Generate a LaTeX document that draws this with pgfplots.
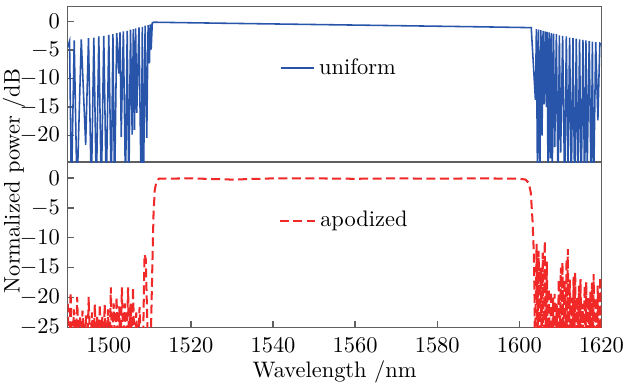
\documentclass[border=0pt]{standalone}
\usepackage{pgfplots}
\pgfplotsset{compat=1.18}
\definecolor{ublue}{RGB}{40,84,170}
\definecolor{ared}{RGB}{240,40,40}
\definecolor{axgray}{RGB}{95,95,95}
\begin{document}
\begin{tikzpicture}
\pgfplotsset{
  common/.style={
    width=238pt, scale only axis,
    xmin=1490, xmax=1620,
    axis line style={axgray, line width=0.6pt},
    tick style={axgray, line width=0.6pt},
    major tick length=3pt,
    tick align=inside,
    xtick pos=bottom, ytick pos=left,
    legend cell align=left,
    tick label style={font=\normalsize},
    /pgf/number format/1000 sep={},
  },
}
% bottom axis: apodized
\begin{axis}[common, name=bot, at={(0,0)}, anchor=south west,
  height=73.7pt,
  ymin=-25, ymax=2.67,
  ytick={0,-5,-10,-15,-20,-25},
  xtick={1500,1520,1540,1560,1580,1600,1620},
  xticklabel style={yshift=-1pt},
  xlabel={Wavelength /nm},
  xlabel style={yshift=3pt},
  legend style={draw=none, fill=none, at={(0.395,0.645)}, anchor=west, inner sep=0pt},
  legend image code/.code={\draw[#1] (0pt,0pt) -- (15.5pt,0pt);},
]
\addplot[ared, line width=0.9pt, dash pattern=on 4pt off 2pt] coordinates {
(1490.0,-21) (1490.35,-30) (1490.7,-19.1) (1491.1,-30) (1491.5,-22) (1491.9,-30)
(1492.3,-19.9) (1492.7,-30) (1493.0,-23) (1493.3,-30) (1493.6,-22.2) (1494.0,-30)
(1494.4,-23) (1494.75,-30) (1495.1,-19.9) (1495.5,-30) (1495.9,-22.5) (1496.25,-30)
(1496.6,-21.1) (1496.95,-30) (1497.2,-23) (1497.5,-30) (1497.8,-21.1) (1498.15,-30)
(1498.4,-23) (1498.7,-30) (1499.0,-21.1) (1499.4,-30) (1499.8,-22) (1500.15,-30)
(1500.5,-18.3) (1500.85,-30) (1501.2,-21) (1501.55,-30) (1501.9,-19.9) (1502.2,-30)
(1502.55,-21.5) (1502.85,-30) (1503.2,-18.3) (1503.55,-30) (1503.9,-21) (1504.3,-30)
(1504.7,-18.3) (1505.0,-30) (1505.3,-21) (1505.6,-30) (1505.9,-18.3) (1506.3,-30)
(1506.7,-22.5) (1507.1,-30) (1507.5,-21.6) (1507.9,-30) (1508.3,-30) (1508.7,-12.8)
(1509.0,-13.5) (1509.6,-30) (1510.1,-30) (1510.3,-25) (1510.6,-15) (1510.9,-6)
(1511.2,-2) (1511.6,-0.6) (1512.2,-0.1) (1520,-0.05) (1530,-0.25) (1540,-0.05)
(1550,-0.05) (1560,-0.12) (1570,-0.05) (1580,-0.1) (1590,-0.05) (1600,-0.1)
(1601.5,-0.25) (1602.3,-0.8) (1602.8,-2.5) (1603.2,-7) (1603.5,-12) (1603.7,-20)
(1603.8,-30)
(1604.2,-11) (1604.45,-30) (1604.7,-12.2) (1604.95,-30) (1605.2,-15) (1605.45,-30)
(1605.7,-12.5) (1605.95,-30) (1606.2,-10.5) (1606.45,-30) (1606.7,-14) (1606.95,-30)
(1607.2,-18.5) (1607.45,-30) (1607.7,-19) (1607.95,-30) (1608.2,-20) (1608.4,-30)
(1608.6,-19.4) (1608.85,-30) (1609.1,-21) (1609.35,-30) (1609.6,-17) (1609.85,-30)
(1610.1,-15) (1610.3,-30) (1610.5,-14.1) (1610.75,-30) (1611.0,-17) (1611.25,-30)
(1611.5,-13.5) (1611.65,-30) (1611.8,-11.9) (1612.05,-30) (1612.3,-17) (1612.55,-30)
(1612.8,-20) (1613.0,-30) (1613.2,-16.5) (1613.4,-30) (1613.6,-15.8) (1613.85,-30)
(1614.1,-20) (1614.3,-30) (1614.5,-18) (1614.7,-30) (1614.9,-16.9) (1615.15,-30)
(1615.4,-21) (1615.65,-30) (1615.9,-18) (1616.1,-30) (1616.3,-17.4) (1616.55,-30)
(1616.8,-20) (1617.05,-30) (1617.3,-19) (1617.5,-30) (1617.7,-17.5) (1617.9,-30)
(1618.1,-16.1) (1618.35,-30) (1618.6,-20) (1618.85,-30) (1619.1,-18) (1619.4,-30)
(1619.7,-16.6) (1619.85,-30) (1620.0,-17.5)
};
\addlegendentry{apodized}
\end{axis}
% top axis: uniform
\begin{axis}[common, at={(0,73.7pt)}, anchor=south west,
  height=69.3pt,
  ymin=-24.65, ymax=2.62,
  ytick={0,-5,-10,-15,-20},
  xtick=\empty,
  legend style={draw=none, fill=none, at={(0.397,0.604)}, anchor=west, inner sep=0pt},
  legend image code/.code={\draw[#1] (0pt,0pt) -- (14.7pt,0pt);},
]
\addplot[ublue, line width=0.7pt] coordinates {
(1490.00,-4.5) (1490.45,-3.4) (1490.90,-30) (1491.58,-3.3) (1492.26,-30) (1493.30,-3.1)
(1494.37,-21.6) (1495.06,-2.9) (1495.75,-30) (1496.36,-2.8) (1496.97,-30) (1497.57,-2.6)
(1498.18,-30) (1498.78,-2.5) (1499.39,-30) (1500.00,-2.3) (1500.61,-30) (1501.01,-2.2)
(1501.41,-30) (1501.93,-2.0) (1502.45,-9.1) (1502.74,-1.9) (1503.03,-20.2) (1503.55,-1.7)
(1504.08,-30) (1504.48,-1.6) (1504.88,-30) (1505.29,-1.4) (1505.70,-19.8) (1505.98,-1.3)
(1506.26,-19) (1506.54,-1.2) (1506.82,-16) (1507.35,-1.0) (1507.89,-30) (1508.17,-0.9)
(1508.45,-30) (1508.85,-0.7) (1509.25,-20.4) (1509.58,-0.6) (1509.90,-7.3) (1510.11,-0.5)
(1510.32,-4.9) (1510.6,-0.2) (1511.0,-0.1)
(1530,-0.3) (1550,-0.5) (1570,-0.7) (1590,-0.9) (1602.9,-1.05)
(1603.91,-13.7) (1604.15,-1.3) (1604.39,-25) (1604.68,-1.4) (1604.98,-30) (1605.25,-1.5)
(1605.53,-20) (1605.78,-1.6) (1606.02,-14.5) (1606.30,-1.7) (1606.58,-15) (1606.78,-1.8)
(1606.99,-30) (1607.27,-1.9) (1607.55,-24) (1607.79,-2.0) (1608.03,-26) (1608.33,-2.1)
(1608.62,-22) (1609.02,-2.2) (1609.42,-30) (1609.75,-2.4) (1610.07,-23) (1610.55,-2.5)
(1611.04,-30) (1611.44,-2.6) (1611.84,-26) (1612.25,-2.8) (1612.65,-30) (1613.06,-2.9)
(1613.47,-30) (1613.87,-3.0) (1614.27,-30) (1614.67,-3.1) (1615.07,-30) (1615.49,-3.2)
(1615.90,-30) (1616.22,-3.3) (1616.53,-26) (1617.02,-3.4) (1617.50,-30) (1617.79,-3.5)
(1618.08,-30) (1618.6,-3.6) (1619.13,-17.3) (1619.6,-3.8) (1620.0,-4)
};
\addlegendentry{uniform}
\end{axis}
\node[rotate=90, font=\normalsize] at (-24pt,65.3pt) {Normalized power /dB};
\pgfresetboundingbox
\path[use as bounding box] (-30.2pt,-25.5pt) rectangle (248.5pt,146pt);
\end{tikzpicture}
\end{document}
